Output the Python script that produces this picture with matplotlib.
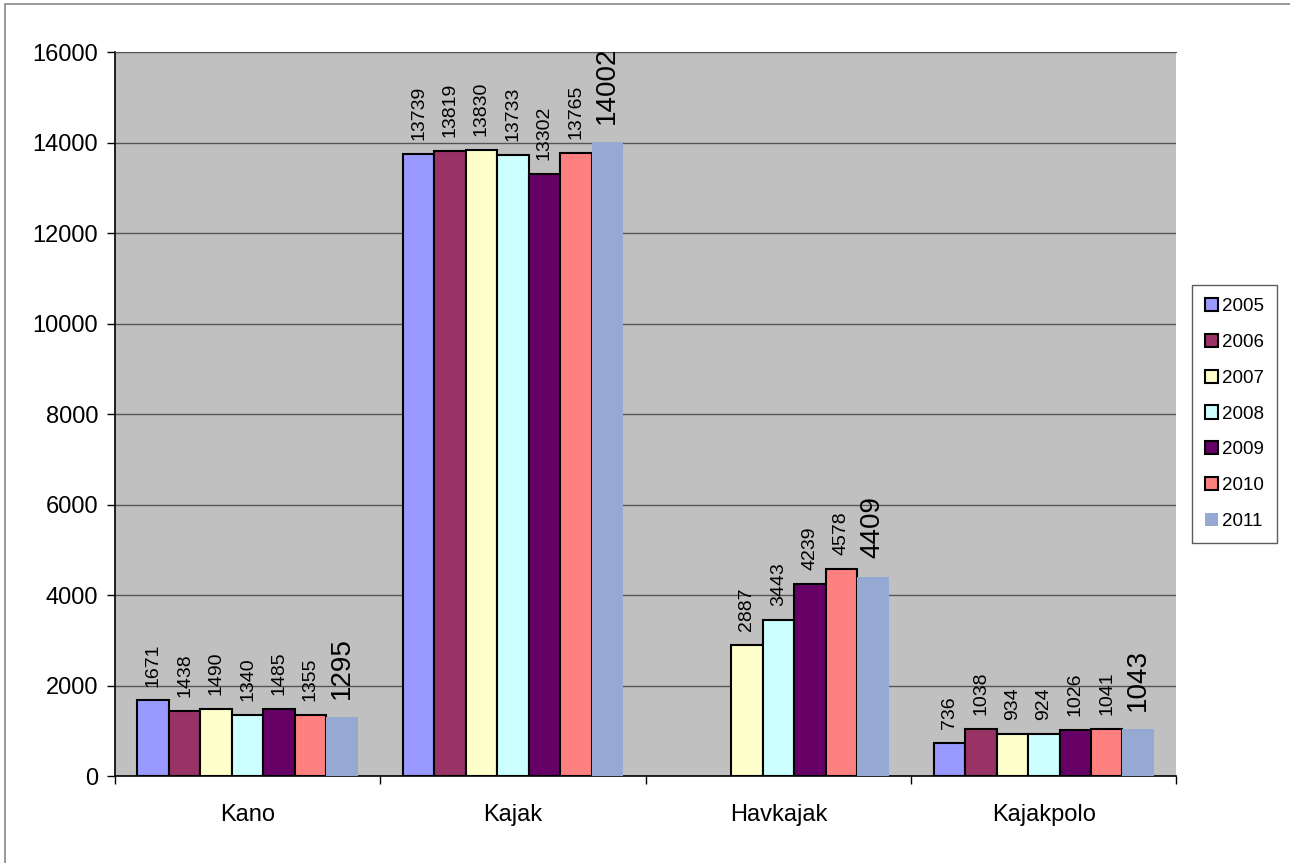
import numpy as np
import matplotlib.pyplot as plt
from matplotlib.patches import Rectangle

plt.rcParams['font.family'] = ['Liberation Sans', 'DejaVu Sans']

categories = ['Kano', 'Kajak', 'Havkajak', 'Kajakpolo']
years = ['2005', '2006', '2007', '2008', '2009', '2010', '2011']
values = {
    '2005': [1671, 13739, None, 736],
    '2006': [1438, 13819, None, 1038],
    '2007': [1490, 13830, 2887, 934],
    '2008': [1340, 13733, 3443, 924],
    '2009': [1485, 13302, 4239, 1026],
    '2010': [1355, 13765, 4578, 1041],
    '2011': [1295, 14002, 4409, 1043],
}
colors = ['#9999FF', '#993366', '#FFFFCC', '#CCFFFF', '#660066', '#FF8080', '#96A9D2']

fig = plt.figure(figsize=(12.9, 8.63), dpi=100)
ax = fig.add_axes([0.089, 0.1008, 0.823, 0.8389])
ax.set_facecolor('#C0C0C0')

x = np.arange(len(categories))
w = 0.83 / len(years)
for i, yr in enumerate(years):
    xs = []
    hs = []
    for j, v in enumerate(values[yr]):
        if v is not None:
            xs.append(x[j] + (i - 3) * w)
            hs.append(v)
    last = (yr == '2011')
    ax.bar(xs, hs, width=w, color=colors[i],
           edgecolor='none' if last else 'black',
           linewidth=0 if last else 1.5, label=yr, zorder=3)
    # value labels, 2011 drawn bigger
    for xx, hh in zip(xs, hs):
        ax.annotate(str(hh), (xx, hh), xytext=(0, 13 if last else 10),
                    textcoords='offset points',
                    rotation=90, ha='center', va='bottom',
                    fontsize=20 if last else 14, zorder=4)

ax.set_xlim(-0.5, 3.5)
ax.set_ylim(0, 16000)
ax.set_yticks(np.arange(0, 16001, 2000))
ax.yaxis.grid(True, color='#555555', linewidth=1, zorder=0)
ax.set_axisbelow(True)
ax.set_xticks(x)
ax.set_xticklabels(categories)
ax.set_xticks(np.arange(-0.5, 4, 1), minor=True)
ax.tick_params(axis='x', which='major', length=0, labelsize=17, pad=20)
ax.tick_params(axis='x', which='minor', length=6, width=1, direction='out')
ax.tick_params(axis='y', length=6, width=1, labelsize=17, pad=6)
ax.spines['right'].set_visible(False)
ax.spines['top'].set_color('#555555')
ax.spines['left'].set_linewidth(1.2)
ax.spines['bottom'].set_linewidth(1.2)

leg = ax.legend(loc='center left', bbox_to_anchor=(1.006, 0.5), fontsize=13.5,
                frameon=True, fancybox=False, edgecolor='#333333',
                handlelength=0.7, handleheight=0.7, handletextpad=0.2,
                labelspacing=1.0, borderpad=0.7)
leg.get_frame().set_linewidth(1)

# thin grey frame round the whole picture
fig.patches.append(Rectangle((0.004, -0.01), 1.0, 1.005, transform=fig.transFigure,
                             fill=False, edgecolor='#888888', linewidth=1.2))

plt.savefig('out.png', dpi=100)
